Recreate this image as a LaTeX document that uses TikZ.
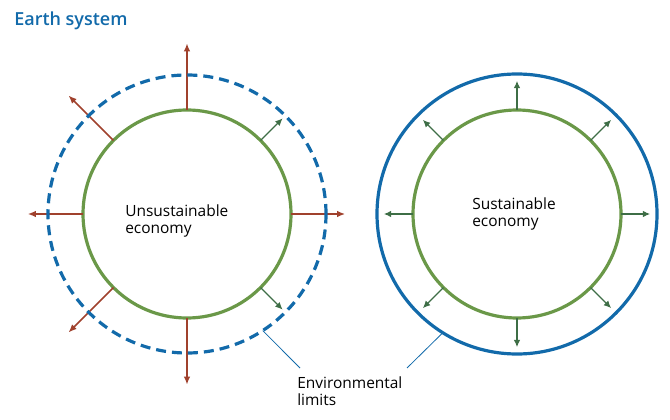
\documentclass[tikz,border=0pt]{standalone}
\usepackage{fontspec}
\setmainfont{Open Sans}[BoldFont=* Semibold]
\usetikzlibrary{arrows.meta,calc}

\definecolor{limitblue}{RGB}{18,106,170}
\definecolor{econgreen}{RGB}{106,152,72}
\definecolor{flowgreen}{RGB}{62,110,70}
\definecolor{flowred}{RGB}{160,65,45}

\begin{document}
\begin{tikzpicture}[x=0.75pt,y=0.75pt,yscale=-1,xscale=1,
  econ/.style={circle,draw=econgreen,line width=2.4pt,minimum size=156pt,inner sep=0pt,outer sep=0pt},
  limitring/.style={circle,draw=limitblue,line width=2.4pt,inner sep=0pt,outer sep=0pt},
  growth/.style={draw=flowred,line width=1.1pt,-{Latex[length=6pt,width=5pt]}},
  steady/.style={draw=flowgreen,line width=0.9pt,-{Latex[length=5.5pt,width=5pt]}},
  leader/.style={draw=limitblue,line width=0.6pt},
  label/.style={font=\fontsize{11.6}{12.5}\selectfont,align=left,inner sep=0pt}]
\useasboundingbox (0,0) rectangle (670,420);

% Title
\node [anchor=west,inner sep=0pt,text=limitblue,font=\fontsize{13.5}{15}\selectfont\bfseries] (title) at (14,21) {Earth system};

% Unsustainable economy
\node [econ] (unsus) at (187,214) {};
\foreach \a/\f in {90/1.64,135/1.61,180/1.53,225/1.61,270/1.64,0/1.52}
  \draw [growth] (unsus.\a) -- ($(unsus.center)!\f!(unsus.\a)$);
\foreach \a in {45,-45}
  \draw [steady] (unsus.\a) -- ($(unsus.center)!1.30!(unsus.\a)$);
\node [limitring,dash pattern=on 7.5pt off 4.5pt,minimum size=208.5pt] (limitdash) at (187,214) {};
\node [label,anchor=west] (unsustext) at (125,221) {Unsustainable\\economy};

% Sustainable economy
\node [econ] (sus) at (517,214) {};
\foreach \a in {0,45,...,315}
  \draw [steady] (sus.\a) -- ($(sus.center)!1.28!(sus.\a)$);
\node [limitring,minimum size=210pt] (limitsolid) at (517,214) {};
\node [label,anchor=west] (sustext) at (472,214) {Sustainable\\economy};

% Environmental limits
\node [label,anchor=west] (limits) at (297,391) {Environmental\\limits};
\coordinate (lfoot) at (300,368);
\coordinate (rfoot) at (407,368);
\draw [leader] (limitdash.-57) -- (lfoot);
\draw [leader] (limitsolid.-122) -- (rfoot);

\end{tikzpicture}
\end{document}
